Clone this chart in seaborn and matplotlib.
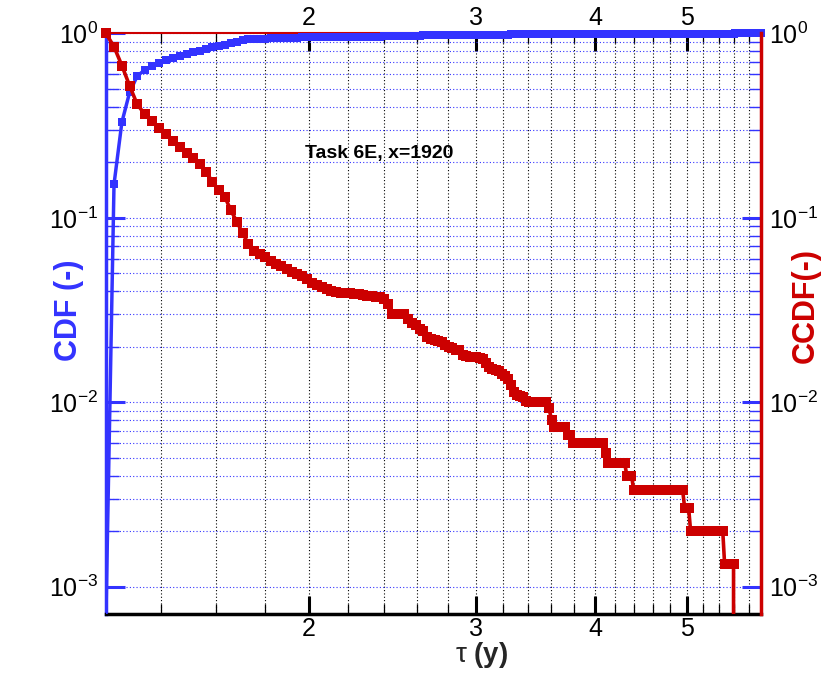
import numpy as np
import pandas as pd
import matplotlib
matplotlib.use("Agg")
import matplotlib.pyplot as plt
import matplotlib.ticker as mticker
import seaborn as sns

# Duration grid tau (years)
tau = [
    1.225, 1.249, 1.273, 1.297, 1.321, 1.345, 1.369, 1.393, 1.417, 1.441,
    1.465, 1.489, 1.513, 1.537, 1.561, 1.585, 1.609, 1.633, 1.657, 1.681,
    1.705, 1.729, 1.753, 1.777, 1.801, 1.825, 1.849, 1.873, 1.897, 1.921,
    1.945, 1.969, 1.993, 2.017, 2.041, 2.065, 2.089, 2.113, 2.137, 2.161,
    2.185, 2.209, 2.233, 2.257, 2.281, 2.305, 2.329, 2.353, 2.377, 2.401,
    2.425, 2.449, 2.473, 2.497, 2.521, 2.545, 2.569, 2.593, 2.617, 2.641,
    2.665, 2.689, 2.713, 2.737, 2.761, 2.785, 2.809, 2.833, 2.857, 2.881,
    2.905, 2.929, 2.953, 2.977, 3.001, 3.025, 3.049, 3.073, 3.097, 3.121,
    3.145, 3.169, 3.193, 3.217, 3.241, 3.265, 3.289, 3.313, 3.337, 3.361,
    3.385, 3.409, 3.433, 3.457, 3.481, 3.505, 3.529, 3.553, 3.577, 3.601,
    3.625, 3.649, 3.673, 3.697, 3.721, 3.745, 3.769, 3.793, 3.817, 3.841,
    3.865, 3.889, 3.913, 3.937, 3.961, 3.985, 4.009, 4.033, 4.057, 4.081,
    4.105, 4.129, 4.153, 4.177, 4.201, 4.225, 4.249, 4.273, 4.297, 4.321,
    4.345, 4.369, 4.393, 4.417, 4.441, 4.465, 4.489, 4.513, 4.537, 4.561,
    4.585, 4.609, 4.633, 4.657, 4.681, 4.705, 4.729, 4.753, 4.777, 4.801,
    4.825, 4.849, 4.873, 4.897, 4.921, 4.945, 4.969, 4.993, 5.017, 5.041,
    5.065, 5.089, 5.113, 5.137, 5.161, 5.185, 5.209, 5.233, 5.257, 5.281,
    5.305, 5.329, 5.353, 5.377, 5.401, 5.425, 5.449, 5.473, 5.497, 5.521,
    5.545, 5.569, 5.593, 5.617, 5.641, 5.665, 5.689, 5.713, 5.737, 5.761,
    5.785, 5.809, 5.833, 5.857, 5.881, 5.905, 5.929, 5.953, 5.977,
]

# Complementary cumulative distribution P(T > tau)
ccdf = [
    1.0, 0.848, 0.670, 0.521, 0.413, 0.366, 0.335, 0.309, 0.284, 0.260,
    0.241, 0.226, 0.211, 0.196, 0.177, 0.157, 0.141, 0.130, 0.110, 0.0954,
    0.0829, 0.0718, 0.0664, 0.0640, 0.0614, 0.0587, 0.0563, 0.0546, 0.0531, 0.0511,
    0.0497, 0.0481, 0.0464, 0.0443, 0.0431, 0.0422, 0.0412, 0.0400, 0.0395, 0.0393,
    0.0391, 0.0390, 0.0388, 0.0386, 0.0383, 0.0379, 0.0375, 0.0372, 0.0370, 0.0365,
    0.0339, 0.0302, 0.0302, 0.0302, 0.0300, 0.0284, 0.0269, 0.0262, 0.0251, 0.0242,
    0.0225, 0.0220, 0.0217, 0.0215, 0.0212, 0.0205, 0.0200, 0.0197, 0.0193, 0.0192,
    0.0181, 0.0178, 0.0177, 0.0175, 0.0175, 0.0173, 0.0172, 0.0163, 0.0156, 0.0152,
    0.0150, 0.0148, 0.0143, 0.0138, 0.0133, 0.0124, 0.0113, 0.0110, 0.0108, 0.0107,
    0.0102, 0.0100, 0.0100, 0.0100, 0.0100, 0.0100, 0.0100, 0.0100, 0.00933, 0.0080,
    0.00733, 0.00733, 0.00733, 0.00733, 0.00733, 0.00667, 0.00667, 0.0060, 0.0060, 0.0060,
    0.0060, 0.0060, 0.0060, 0.0060, 0.0060, 0.0060, 0.0060, 0.0060, 0.0060, 0.0060,
    0.00533, 0.00467, 0.00467, 0.00467, 0.00467, 0.00467, 0.00467, 0.00467, 0.00467, 0.0040,
    0.0040, 0.0040, 0.00333, 0.00333, 0.00333, 0.00333, 0.00333, 0.00333, 0.00333, 0.00333,
    0.00333, 0.00333, 0.00333, 0.00333, 0.00333, 0.00333, 0.00333, 0.00333, 0.00333, 0.00333,
    0.00333, 0.00333, 0.00333, 0.00333, 0.00333, 0.00333, 0.00267, 0.00267, 0.00267, 0.0020,
    0.0020, 0.0020, 0.0020, 0.0020, 0.0020, 0.0020, 0.0020, 0.0020, 0.0020, 0.0020,
    0.0020, 0.0020, 0.0020, 0.0020, 0.0020, 0.0020, 0.0020, 0.00133, 0.00133, 0.00133,
    0.00133, 0.00133, 0.00133, 0.0, 0.0, 0.0, 0.0, 0.0, 0.0, 0.0,
    0.0, 0.0, 0.0, 0.0, 0.0, 0.0, 0.0, 0.0, 0.0,
]

# Cumulative distribution P(T <= tau)
cdf = [1.0 - v for v in ccdf]

x_major = [2, 3, 4, 5]
x_minor = [1.4, 1.6, 1.8, 2.2, 2.4, 2.6, 2.8, 3.2, 3.4, 3.6, 3.8,
           4.2, 4.4, 4.6, 4.8, 5.2, 5.4, 5.6, 5.8]
y_limits = (7.1e-4, 1.0)
annotation = "Task 6E, x=1920"

BLUE = "#3333ff"
RED = "#cc0000"

sns.set_theme(style="white")
plt.rcParams["font.family"] = ["Liberation Sans", "DejaVu Sans"]
plt.rcParams["mathtext.fontset"] = "custom"
plt.rcParams["mathtext.rm"] = "Liberation Sans"
plt.rcParams["mathtext.it"] = "Liberation Sans:italic"
plt.rcParams["mathtext.bf"] = "Liberation Sans:bold"
plt.rcParams["mathtext.default"] = "regular"

df = pd.DataFrame({"tau": tau, "cdf": cdf, "ccdf": ccdf})
# zero probability sits on the floor of the log axis for the connecting line
df["cdf_line"] = df["cdf"].clip(lower=y_limits[0])

fig = plt.figure(figsize=(8.21, 6.74), dpi=100)
fig.patch.set_facecolor("white")
ax = fig.add_axes([0.1291, 0.0890, 0.7978, 0.8613])
ax.set_xscale("log")
ax.set_yscale("log")
ax2 = ax.twinx()
ax2.set_yscale("log")

# CDF on the left axis
sns.lineplot(data=df, x="tau", y="cdf_line", ax=ax, color=BLUE, linewidth=2.5,
             estimator=None, sort=False, legend=False, zorder=3)
sns.scatterplot(data=df[df["cdf"] > 0], x="tau", y="cdf", ax=ax, color=BLUE,
                marker="s", s=40, linewidth=0, clip_on=False, zorder=4,
                legend=False)

# CCDF on the right axis
sns.lineplot(data=df, x="tau", y="ccdf", ax=ax2, color=RED, linewidth=2.6,
             estimator=None, sort=False, legend=False, zorder=3)
sns.scatterplot(data=df[df["ccdf"] > 0], x="tau", y="ccdf", ax=ax2, color=RED,
                marker="s", s=56, linewidth=0, clip_on=False, zorder=4,
                legend=False)

ax.set_xlim(tau[0], tau[-1])
y_minor = [m * 10.0 ** e for e in (-3, -2, -1) for m in range(2, 10)]

# x axis: ticks on bottom and top
ax.xaxis.set_major_locator(mticker.FixedLocator(x_major))
ax.xaxis.set_major_formatter(mticker.FixedFormatter([str(v) for v in x_major]))
ax.xaxis.set_minor_locator(mticker.FixedLocator(x_minor))
ax.xaxis.set_minor_formatter(mticker.NullFormatter())
ax.tick_params(axis="x", which="both", direction="in", top=True, bottom=True,
               labeltop=True, labelbottom=True, color="black", labelcolor="black")
ax.tick_params(axis="x", which="major", length=13, width=2.2, labelsize=18, pad=2.5)
ax.tick_params(axis="x", which="minor", length=7, width=0.9)

for a in (ax, ax2):
    a.set_ylim(*y_limits)
    a.yaxis.set_major_locator(mticker.FixedLocator([1e-3, 1e-2, 1e-1, 1.0]))
    a.yaxis.set_major_formatter(mticker.LogFormatterSciNotation())
    a.yaxis.set_minor_locator(mticker.FixedLocator(y_minor))
    a.yaxis.set_minor_formatter(mticker.NullFormatter())
    a.tick_params(axis="y", which="major", direction="in", length=14, width=2.2,
                  color=BLUE, labelcolor="black", labelsize=18, pad=6)
    a.tick_params(axis="y", which="minor", direction="in", length=9, width=1,
                  color=BLUE)

# grid
ax.set_axisbelow(True)
ax.grid(True, which="both", axis="y", color=BLUE, linestyle=(0, (1, 2)), linewidth=0.8)
ax.grid(True, which="both", axis="x", color="black", linestyle=(0, (1, 2)), linewidth=0.8)
ax2.grid(False)

# spines
ax.spines["left"].set_color(BLUE)
ax.spines["left"].set_linewidth(2.5)
ax.spines["bottom"].set_color("black")
ax.spines["bottom"].set_linewidth(2.5)
ax.spines["top"].set_color(RED)
ax.spines["top"].set_linewidth(1.5)
ax.spines["right"].set_visible(False)
for side in ("left", "top", "bottom"):
    ax2.spines[side].set_visible(False)
ax2.spines["right"].set_color(RED)
ax2.spines["right"].set_linewidth(2.5)

# labels
ax.set_ylabel("CDF (-)", color=BLUE, fontsize=22, fontweight="bold", va="center")
ax.yaxis.set_label_coords(-0.056, 0.524)
ax2.set_ylabel("CCDF(-)", color=RED, fontsize=22, fontweight="bold", va="center")
ax2.yaxis.set_label_coords(1.068, 0.532)
ax.set_xlabel(r"$\mathrm{\tau}$ (y)", fontsize=20, fontweight="bold", va="center")
ax.xaxis.set_label_coords(0.574, -0.0706)

ax.text(0.304, 0.794, annotation, transform=ax.transAxes, fontsize=14,
        fontweight="bold", ha="left", va="center", color="black")

fig.savefig("out.png", dpi=100, facecolor="white")
